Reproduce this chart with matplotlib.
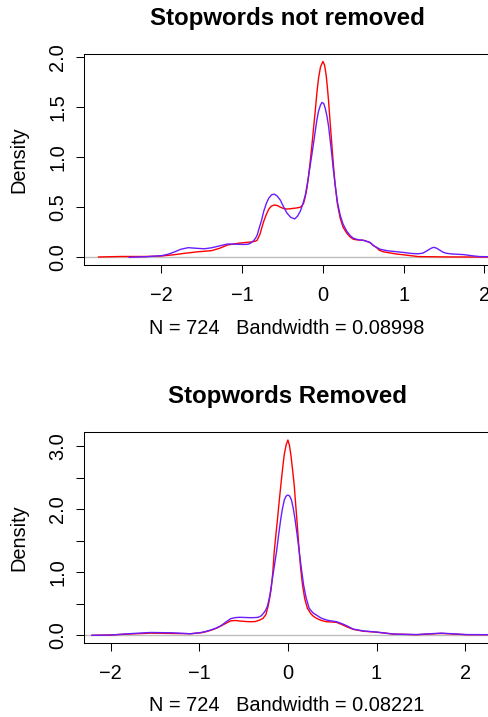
import matplotlib
matplotlib.use('Agg')
import matplotlib.pyplot as plt

plt.rcParams['font.family'] = ['Liberation Sans', 'DejaVu Sans']

# ---- data (kernel density curves) ----
top_red_x = [-2.78, -2.5, -2.2, -2.0, -1.85, -1.71, -1.55, -1.38, -1.28, -1.18, -1.05, -0.93,
             -0.87, -0.84, -0.815, -0.78, -0.755, -0.733, -0.70, -0.671, -0.64, -0.60, -0.56,
             -0.527, -0.49, -0.444, -0.40, -0.35, -0.31, -0.28, -0.26, -0.239, -0.22, -0.198,
             -0.178, -0.157, -0.13, -0.11, -0.095, -0.075, -0.054, -0.03, 0.0, 0.02, 0.04,
             0.055, 0.07, 0.09, 0.111, 0.13, 0.152, 0.18, 0.214, 0.25, 0.296, 0.34, 0.378,
             0.44, 0.50, 0.54, 0.584, 0.62, 0.66, 0.70, 0.75, 0.82, 0.91, 1.05, 1.18, 1.5, 2.1]
top_red_y = [0.003, 0.008, 0.008, 0.013, 0.025, 0.04, 0.055, 0.066, 0.09, 0.123, 0.14, 0.15,
             0.155, 0.16, 0.17, 0.23, 0.30, 0.36, 0.43, 0.48, 0.51, 0.523, 0.515,
             0.50, 0.488, 0.482, 0.485, 0.49, 0.495, 0.50, 0.515, 0.54, 0.60, 0.69,
             0.81, 0.96, 1.17, 1.34, 1.46, 1.64, 1.79, 1.90, 1.956, 1.92, 1.82,
             1.70, 1.56, 1.34, 1.12, 0.92, 0.72, 0.53, 0.39, 0.30, 0.24, 0.20, 0.18,
             0.172, 0.17, 0.16, 0.146, 0.12, 0.10, 0.07, 0.055, 0.045, 0.033, 0.02, 0.007, 0.004, 0.002]

top_blue_x = [-2.40, -2.2, -2.0, -1.92, -1.85, -1.76, -1.67, -1.57, -1.47, -1.38, -1.3, -1.18,
              -1.05, -0.98, -0.93, -0.898, -0.86, -0.835, -0.815, -0.79, -0.76, -0.733, -0.70,
              -0.671, -0.635, -0.60, -0.565, -0.527, -0.485, -0.444, -0.40, -0.35, -0.315,
              -0.28, -0.25, -0.218, -0.19, -0.157, -0.125, -0.095, -0.075, -0.054, -0.03,
              -0.012, 0.01, 0.028, 0.05, 0.07, 0.09, 0.111, 0.13, 0.152, 0.18, 0.214, 0.25,
              0.296, 0.34, 0.378, 0.44, 0.50, 0.58, 0.64, 0.71, 0.80, 0.91, 1.0, 1.1, 1.18,
              1.24, 1.30, 1.34, 1.374, 1.41, 1.45, 1.49, 1.53, 1.6, 1.74, 1.85, 1.94, 2.1]
top_blue_y = [0.0, 0.005, 0.016, 0.03, 0.05, 0.08, 0.096, 0.09, 0.085, 0.095, 0.11, 0.133,
              0.13, 0.128, 0.13, 0.14, 0.165, 0.19, 0.22, 0.29, 0.37, 0.46, 0.54,
              0.59, 0.625, 0.63, 0.61, 0.57, 0.50, 0.44, 0.40, 0.383, 0.41,
              0.46, 0.53, 0.62, 0.75, 0.92, 1.09, 1.26, 1.37, 1.46, 1.52,
              1.546, 1.535, 1.49, 1.41, 1.31, 1.17, 1.02, 0.87, 0.72, 0.55, 0.42, 0.33,
              0.26, 0.215, 0.19, 0.175, 0.17, 0.15, 0.11, 0.08, 0.065, 0.056, 0.048, 0.038, 0.035,
              0.042, 0.07, 0.09, 0.10, 0.09, 0.07, 0.05, 0.04, 0.033, 0.027, 0.015, 0.007, 0.005]

bot_red_x = [-2.21, -2.0, -1.8, -1.55, -1.3, -1.10, -0.98, -0.93, -0.87, -0.81, -0.76, -0.70,
             -0.646, -0.59, -0.541, -0.48, -0.428, -0.37, -0.316, -0.28, -0.248, -0.22, -0.19,
             -0.17, -0.154, -0.135, -0.116, -0.098, -0.079, -0.06, -0.042, -0.02, 0.0, 0.017,
             0.034, 0.052, 0.071, 0.085, 0.10, 0.114, 0.128, 0.145, 0.165, 0.19, 0.22, 0.26,
             0.29, 0.323, 0.38, 0.436, 0.49, 0.549, 0.61, 0.662, 0.736, 0.85, 1.0, 1.19, 1.45,
             1.73, 2.01, 2.3]
bot_red_y = [0.0, 0.005, 0.02, 0.035, 0.03, 0.025, 0.04, 0.055, 0.08, 0.11, 0.145, 0.19,
             0.23, 0.235, 0.227, 0.22, 0.216, 0.218, 0.243, 0.27, 0.33, 0.48, 0.72,
             1.00, 1.33, 1.60, 1.86, 2.13, 2.39, 2.64, 2.86, 3.02, 3.10, 3.02,
             2.86, 2.64, 2.39, 2.13, 1.86, 1.60, 1.33, 1.05, 0.80, 0.58, 0.43, 0.34,
             0.30, 0.27, 0.235, 0.216, 0.212, 0.206, 0.17, 0.137, 0.095, 0.065, 0.05, 0.02, 0.01,
             0.03, 0.01, 0.01]

bot_blue_x = [-2.21, -2.0, -1.8, -1.55, -1.3, -1.10, -0.98, -0.93, -0.87, -0.81, -0.76, -0.70,
              -0.646, -0.59, -0.541, -0.48, -0.428, -0.38, -0.335, -0.30, -0.27, -0.25, -0.229,
              -0.205, -0.18, -0.155, -0.128, -0.104, -0.079, -0.06, -0.04, -0.02, 0.0, 0.02,
              0.04, 0.06, 0.079, 0.104, 0.128, 0.152, 0.177, 0.205, 0.24, 0.28, 0.323, 0.38,
              0.436, 0.49, 0.549, 0.61, 0.662, 0.736, 0.85, 1.0, 1.19, 1.45, 1.73, 2.01, 2.3]
bot_blue_y = [0.0, 0.005, 0.025, 0.045, 0.04, 0.025, 0.045, 0.06, 0.084, 0.115, 0.148, 0.21,
              0.264, 0.282, 0.286, 0.283, 0.28, 0.281, 0.286, 0.31, 0.36, 0.40, 0.47,
              0.62, 0.85, 1.08, 1.33, 1.60, 1.86, 2.02, 2.15, 2.21, 2.227, 2.21,
              2.15, 2.02, 1.86, 1.60, 1.33, 1.06, 0.80, 0.60, 0.43, 0.36, 0.32, 0.27,
              0.243, 0.228, 0.216, 0.185, 0.153, 0.10, 0.07, 0.052, 0.02, 0.012, 0.035, 0.012, 0.01]

titles = ['Stopwords not removed', 'Stopwords Removed']
xlabels = ['N = 724   Bandwidth = 0.08998', 'N = 724   Bandwidth = 0.08221']
x_ticks = [-2, -1, 0, 1, 2]
top_yticks = [0, 0.5, 1.0, 1.5, 2.0]
top_ylabels = ['0.0', '0.5', '1.0', '1.5', '2.0']
bot_yticks = [0, 0.5, 1.0, 1.5, 2.0, 2.5, 3.0]
bot_ylabels = ['0.0', '', '1.0', '', '2.0', '', '3.0']

W, H = 489, 717
fig = plt.figure(figsize=(W / 100, H / 100), dpi=100)

# axes boxes in pixels: left, top, right, bottom
boxes = [(84, 54, 490, 265), (84, 432, 490, 642.7)]
xlims = [(-2.96, 2.07), (-2.30, 2.28)]
ylims = [(-0.077, 2.03), (-0.117, 3.227)]
curves = [((top_red_x, top_red_y), (top_blue_x, top_blue_y)),
          ((bot_red_x, bot_red_y), (bot_blue_x, bot_blue_y))]
yticks = [(top_yticks, top_ylabels), (bot_yticks, bot_ylabels)]

for i in range(2):
    l, t, r, b = boxes[i]
    ax = fig.add_axes([l / W, 1 - b / H, (r - l) / W, (b - t) / H])
    ah = b - t
    aw = r - l
    ax.axhline(0, color='#bebebe', lw=1.0, zorder=1)
    (rx, ry), (bx, by) = curves[i]
    ax.plot(rx, ry, color='#ff0000', lw=1.0, zorder=2, solid_joinstyle='round')
    ax.plot(bx, by, color='#6a1cff', lw=1.0, zorder=3, solid_joinstyle='round')
    ax.set_xlim(*xlims[i])
    ax.set_ylim(*ylims[i])
    ax.set_xticks(x_ticks)
    ax.set_xticklabels([str(v).replace('-', '\u2212') for v in x_ticks])
    ax.set_yticks(yticks[i][0])
    ax.set_yticklabels(yticks[i][1], rotation=90, va='center')
    ax.tick_params(axis='x', length=5.8, width=0.75, pad=9.4, labelsize=14.4)
    ax.tick_params(axis='y', length=5.8, width=0.75, pad=6.1, labelsize=14.4)
    for s in ax.spines.values():
        s.set_linewidth(0.75)
        s.set_color('black')
    ax.text(0.5, 1 + 29 / ah, titles[i], transform=ax.transAxes, ha='center',
            va='baseline', fontsize=17.3, fontweight='bold')
    ax.text(0.5, -68.5 / ah, xlabels[i], transform=ax.transAxes, ha='center',
            va='baseline', fontsize=14.4)
    ax.text(-65 / aw, 0.5, 'Density', transform=ax.transAxes, ha='center',
            va='center', rotation=90, fontsize=14.4)

plt.savefig('out.png', dpi=100)
